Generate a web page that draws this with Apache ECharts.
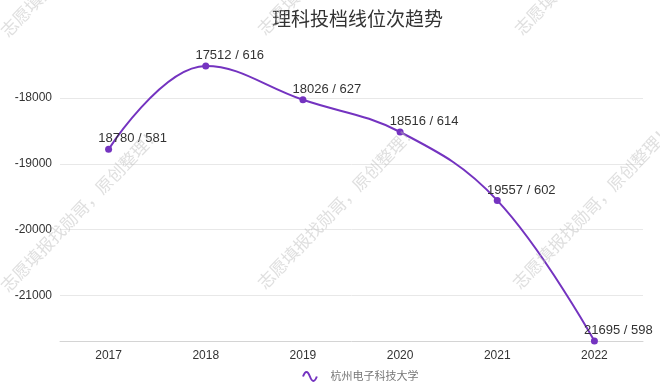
<!DOCTYPE html>
<html><head><meta charset="utf-8">
<script src="https://cdn.jsdelivr.net/npm/echarts@6/dist/echarts.min.js"></script>
<style>html,body{margin:0;padding:0;background:#fff}#c{width:660px;height:388px}</style>
</head><body><div id="c"></div>
<script>
const years = ['2017','2018','2019','2020','2021','2022'];
const ranks = [-18780, -17512, -18026, -18516, -19557, -21695];
const scores = [581, 616, 627, 614, 602, 598];
const seriesName = '杭州电子科技大学';
const titleText = '理科投档线位次趋势';
const watermark = '志愿填报找勋哥，原创整理！';

const FONT = '"Liberation Sans", Arial, "Noto Sans CJK SC", sans-serif';
const PURPLE = '#7433c0';

const wmPos = [[5,35],[262,33],[519,33],[5,290],[262,287],[517,287],[-10,548],[247,545],[502,545]];
const graphics = wmPos.map(p => ({
  type: 'text', x: p[0], y: p[1], rotation: Math.PI * 46 / 180, z: 100, silent: true,
  style: { text: watermark, fontSize: 17, fontFamily: FONT, fill: 'rgba(185,185,185,0.45)', align: 'left', verticalAlign: 'middle' }
}));

const chart = echarts.init(document.getElementById('c'));
chart.setOption({
  animation: false,
  backgroundColor: '#fff',
  title: { text: titleText, left: 267, top: 6, textStyle: { fontSize: 19, fontWeight: 'normal', color: '#333', fontFamily: FONT } },
  legend: {
    left: 297, top: 366, itemWidth: 15, itemHeight: 9,
    data: [{ name: seriesName, icon: 'path://M0,5 C2.5,-1.5 5,-1.5 7.5,5 C10,11.5 12.5,11.5 15,5',
      itemStyle: { color: 'rgba(0,0,0,0)', borderColor: PURPLE, borderWidth: 2 } }],
    textStyle: { fontSize: 11, color: '#777', fontFamily: FONT, padding: [0,0,0,8] }
  },
  grid: { left: 60, right: 17, top: 66, bottom: 47 },
  xAxis: {
    type: 'category', data: years, boundaryGap: true,
    axisLine: { lineStyle: { color: '#d4d4d4' } },
    axisTick: { alignWithLabel: true, length: 3, lineStyle: { color: '#d4d4d4' } },
    axisLabel: { fontSize: 12, color: '#333', fontFamily: FONT, margin: 9 }
  },
  yAxis: {
    type: 'value', min: 'dataMin', max: 'dataMax', splitNumber: 5,
    axisLine: { show: false }, axisTick: { show: false },
    splitLine: { showMinLine: false, showMaxLine: false, lineStyle: { color: '#e8e8e8' } },
    axisLabel: { fontSize: 12, color: '#333', fontFamily: FONT, margin: 8,
      showMinLabel: false, showMaxLabel: false, formatter: v => String(v) }
  },
  series: [{
    name: seriesName, type: 'line', data: ranks, smooth: 0.4,
    symbol: 'circle', symbolSize: 7,
    lineStyle: { color: PURPLE, width: 2 }, itemStyle: { color: PURPLE },
    label: { show: true, position: 'inside', offset: [24, -10.5], fontSize: 13, color: '#333', fontFamily: FONT,
      formatter: p => Math.abs(p.value) + ' / ' + scores[p.dataIndex] }
  }],
  graphic: graphics
});
</script></body></html>
